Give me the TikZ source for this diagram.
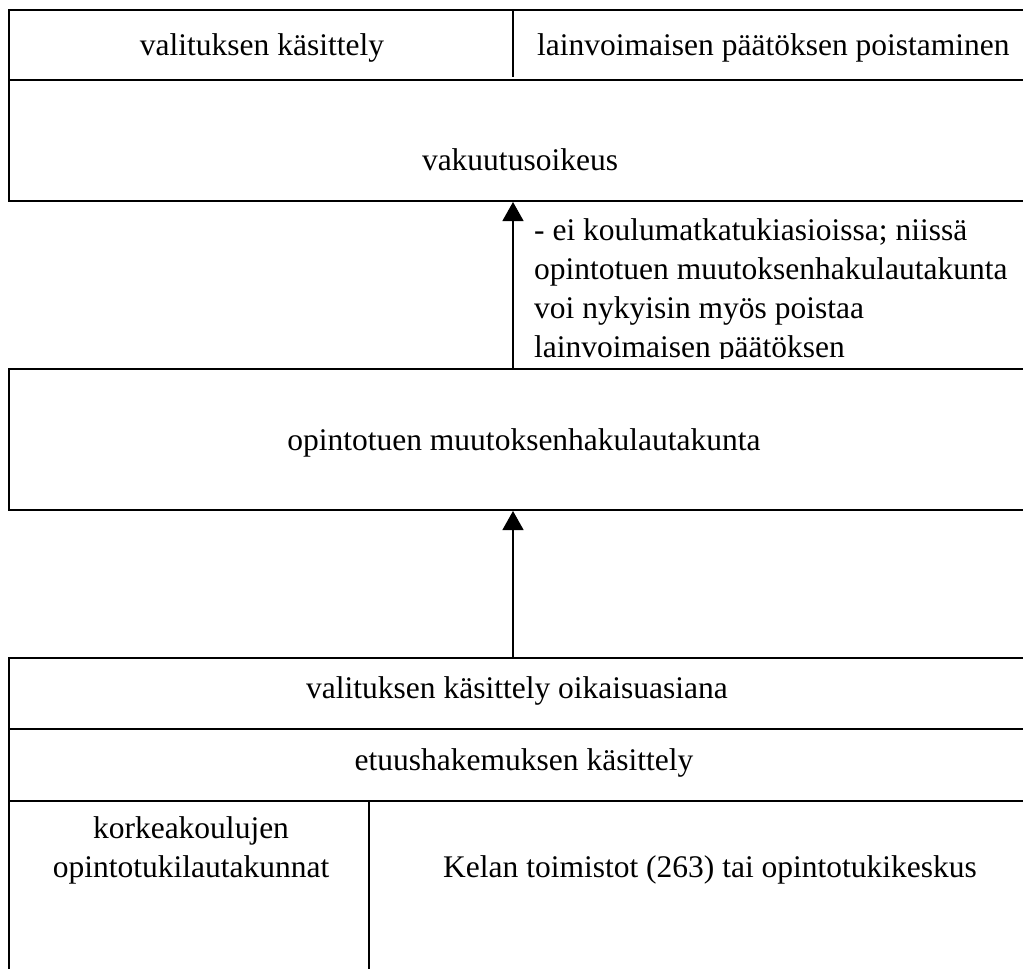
\documentclass[tikz,border=0pt]{standalone}
\usepackage{fontspec}
\setmainfont{Liberation Serif}
\usetikzlibrary{arrows.meta,positioning,calc}
\tikzset{
  frame/.style={rectangle,draw,line width=2pt,anchor=north west,
                inner sep=0pt},
  divider/.style={line width=1.3pt},
  lbl/.style={font=\fontsize{31.5}{39}\selectfont,inner sep=0pt,anchor=base},
  uparrow/.style={-{Triangle[length=19pt,width=21pt]},line width=1.3pt},
}
\begin{document}
\begin{tikzpicture}[x=1pt,y=-1pt]
    \useasboundingbox (0,0) rectangle (1023,969);
    \clip (0,0) rectangle (1023,969);

    % boxes
    \node[frame,minimum width=1040,minimum height=191] (vo)   at (8,9)   {};
    \node[frame,minimum width=1040,minimum height=141] (omhl) at (8,368) {};
    \node[frame,minimum width=1040,minimum height=330] (kela) at (8,657) {};

    \draw[line width=2pt] (vo.west |- 0,80)    -- (vo.east |- 0,80);
    \draw[line width=2pt] (kela.west |- 0,729) -- (kela.east |- 0,729);
    \draw[line width=2pt] (kela.west |- 0,801) -- (kela.east |- 0,801);
    \draw[divider] (513,9)   -- (513,77);
    \draw[divider] (369,801) -- (369,969);

    \node[lbl] (kasittely) at (262,55) {valituksen käsittely};
    \node[lbl,anchor=base west] (poisto) at (537,55)
      {lainvoimaisen päätöksen poistaminen};
    \node[lbl] (vakuutus) at (520,170) {vakuutusoikeus};
    \node[lbl] (lautakunta) at (524,450) {opintotuen muutoksenhakulautakunta};
    \node[lbl] (oikaisu) at (517,698) {valituksen käsittely oikaisuasiana};
    \node[lbl] (etuus) at (524,770) {etuushakemuksen käsittely};
    \node[lbl] (korkea) at (191,838) {korkeakoulujen};
    \node[lbl] (tukilk) at (191,877) {opintotukilautakunnat};
    \node[lbl] (toimistot) at (710,877) {Kelan toimistot (263) tai opintotukikeskus};

    % arrows
    \coordinate (ax) at (513,0);
    \draw[uparrow] (omhl.north -| ax) -- (vo.south -| ax);
    \draw[uparrow] (kela.north -| ax) -- (omhl.south -| ax);

    % note beside the upper arrow
    \begin{scope}
      \clip (520,202) rectangle (1023,358);
      \node[lbl,anchor=base west,align=left] (huom) at (534,357)
        {- ei koulumatkatukiasioissa; niissä\\
         opintotuen muutoksenhakulautakunta\\
         voi nykyisin myös poistaa\\
         lainvoimaisen päätöksen};
    \end{scope}
\end{tikzpicture}
\end{document}
